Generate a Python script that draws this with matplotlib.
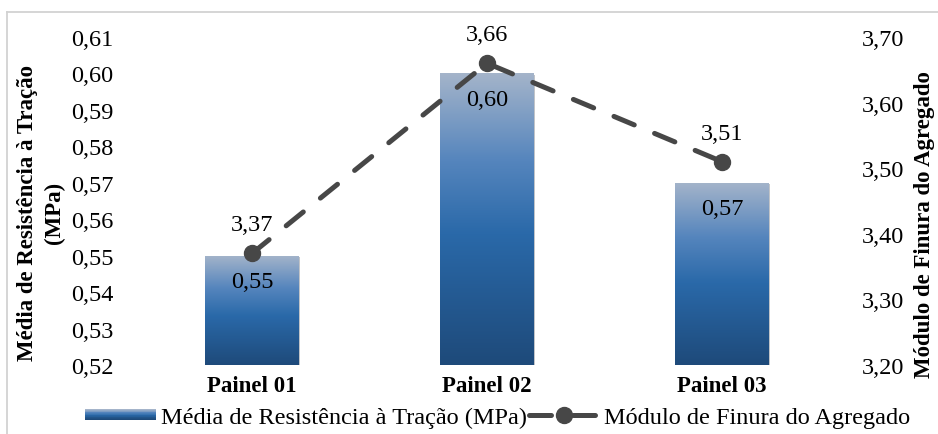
import matplotlib
matplotlib.use("Agg")
import matplotlib.pyplot as plt
import numpy as np
from matplotlib.colors import LinearSegmentedColormap
from matplotlib.lines import Line2D
from matplotlib.patches import Rectangle
from matplotlib.legend_handler import HandlerBase
from matplotlib.ticker import FuncFormatter
import matplotlib.patheffects as pe

plt.rcParams['font.family'] = ['Liberation Serif', 'DejaVu Serif']

# dados
paineis = ['Painel 01', 'Painel 02', 'Painel 03']
resistencia = [0.55, 0.60, 0.57]      # MPa
modulo_finura = [3.37, 3.66, 3.51]
nome_barra = 'Média de Resistência à Tração (MPa)'
nome_linha = 'Módulo de Finura do Agregado'

fs = 17.5       # texto normal
fsb = 16.5      # texto em negrito
cor_linha = '#474747'
grad = LinearSegmentedColormap.from_list(
    'azul', [(0.0, '#1e4a7a'), (0.45, '#2a69a9'), (0.7, '#5585bd'), (1.0, '#a4b4ca')])

virgula = FuncFormatter(lambda v, _: f'{v:.2f}'.replace('.', ','))


class GradHandler(HandlerBase):
    # retangulo degradê na legenda
    def create_artists(self, legend, orig_handle, xdescent, ydescent,
                       width, height, fontsize, trans):
        n = 14
        h = height * 0.6
        y0 = -ydescent + (height - h) / 2
        arts = []
        for i in range(n):
            r = Rectangle((-xdescent, y0 + i * h / n), width, h / n + 0.3,
                          facecolor=grad(i / (n - 1)), edgecolor='none',
                          transform=trans)
            arts.append(r)
        return arts


fig = plt.figure(figsize=(9.38, 4.35), dpi=100)
ax = fig.add_axes([134.5 / 938, 69 / 435, 705 / 938, 328 / 435])
ax2 = ax.twinx()

x = np.arange(len(paineis))
bars = ax.bar(x, resistencia, width=0.4, color='#1e4a7a', zorder=1,
              path_effects=[pe.SimplePatchShadow(offset=(1, -1), alpha=0.25), pe.Normal()])

# degradê vertical em cada barra
g = np.linspace(0, 1, 256).reshape(-1, 1)
for b in bars:
    x0 = b.get_x()
    im = ax.imshow(g, cmap=grad, origin='lower', aspect='auto', zorder=2,
                   extent=[x0, x0 + b.get_width(), 0.52, b.get_height()])
    im.set_clip_path(b)

for xi, v in zip(x, resistencia):
    ax.annotate(f'{v:.2f}'.replace('.', ','), (xi, v), xytext=(0, -11),
                textcoords='offset points', ha='center', va='top',
                fontsize=fs, zorder=5)

ax.set_xlim(-0.5, 2.5)
ax.set_ylim(0.52, 0.61)
ax.set_yticks(np.arange(0.52, 0.6151, 0.01))
ax.yaxis.set_major_formatter(virgula)
ax.set_xticks(x)
ax.set_xticklabels(paineis, fontweight='bold', fontsize=fsb)
ax.tick_params(axis='y', length=0, pad=15, labelsize=fs)
ax.tick_params(axis='x', length=0, pad=7)

linha, = ax2.plot(x, modulo_finura, color=cor_linha, lw=3.6,
                  linestyle=(0, (4.4, 4.4)), dash_capstyle='round',
                  marker='o', markersize=11.5, zorder=3)
for xi, v in zip(x, modulo_finura):
    ax2.annotate(f'{v:.2f}'.replace('.', ','), (xi, v), xytext=(0, 13),
                 textcoords='offset points', ha='center', va='bottom',
                 fontsize=fs)

ax2.set_ylim(3.20, 3.70)
ax2.set_yticks(np.arange(3.20, 3.7051, 0.10))
ax2.yaxis.set_major_formatter(virgula)
ax2.tick_params(axis='y', length=0, pad=16, labelsize=fs)

for a in (ax, ax2):
    for s in a.spines.values():
        s.set_visible(False)

fig.text(41 / 938, 1 - 213 / 435, 'Média de Resistência à Tração\n(MPa)',
         rotation=90, ha='center', va='center', fontsize=fsb,
         fontweight='bold', multialignment='center', linespacing=1.35)
fig.text(924 / 938, 1 - 225 / 435, nome_linha, rotation=90,
         ha='center', va='center', fontsize=fsb, fontweight='bold')

fig.legend([bars, linha], [nome_barra, nome_linha],
           handler_map={type(bars): GradHandler()},
           loc='center', bbox_to_anchor=(498 / 938, 1 - 418 / 435),
           ncol=2, frameon=False, fontsize=fs, handlelength=2.9,
           handletextpad=0.2, columnspacing=0.1, borderpad=0, borderaxespad=0)

# moldura
yt = 1 - 13 / 435
xl = 7 / 938
fig.add_artist(Line2D([xl, 1], [yt, yt], transform=fig.transFigure,
                      color='#d2d2d2', lw=1.3))
fig.add_artist(Line2D([xl, xl], [0, yt], transform=fig.transFigure,
                      color='#d2d2d2', lw=1.3))

fig.savefig('out.png', dpi=100, facecolor='white')
